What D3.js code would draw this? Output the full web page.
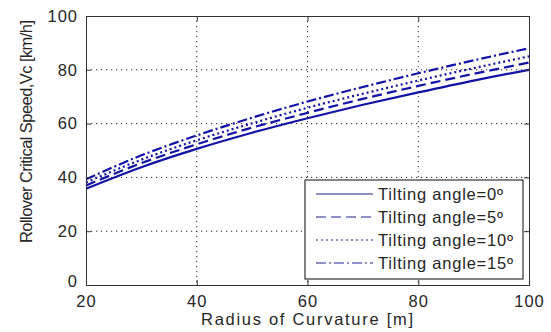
<!DOCTYPE html>
<html>
<head>
<meta charset="utf-8">
<script src="https://cdn.jsdelivr.net/npm/d3@7"></script>
<style>
  body { margin: 0; background: #fff; }
  text { font-family: "Liberation Sans", Arial, sans-serif; fill: #262626; }
</style>
</head>
<body>
<div id="chart"></div>
<script>
// radius of curvature [m]
const radius = [20, 30, 40, 50, 60, 70, 80, 90, 100];
// rollover critical speed [km/h] per tilting angle
const angle0 = [35.8, 43.8, 50.6, 56.6, 62.0, 67.0, 71.6, 76.0, 80.0];
const angle5 = [37.0, 45.3, 52.3, 58.5, 64.0, 69.2, 74.0, 78.5, 82.7];
const angle10 = [38.1, 46.6, 53.8, 60.1, 65.9, 71.1, 76.0, 80.6, 85.0];
const angle15 = [39.3, 48.2, 55.6, 62.2, 68.2, 73.6, 78.7, 83.5, 88.0];
const seriesNames = ['Tilting angle=0º', 'Tilting angle=5º', 'Tilting angle=10º', 'Tilting angle=15º'];
const xTicks = [20, 40, 60, 80, 100];
const yTicks = [0, 20, 40, 60, 80, 100];

const width = 551, height = 332;
const margin = {top: 16, right: 22, bottom: 47, left: 86};
const w = width - margin.left - margin.right;
const h = height - margin.top - margin.bottom;

const svg = d3.select('#chart').append('svg')
  .attr('width', width)
  .attr('height', height);

const g = svg.append('g')
  .attr('transform', 'translate(' + margin.left + ',' + margin.top + ')');

const x = d3.scaleLinear().domain([20, 100]).range([0, w]);
const y = d3.scaleLinear().domain([0, 100]).range([h, 0]);

// dotted grid
g.selectAll('.vgrid').data(xTicks.slice(1, -1)).enter().append('line')
  .attr('x1', d => x(d)).attr('x2', d => x(d))
  .attr('y1', 0).attr('y2', h)
  .style('stroke', '#222').style('stroke-width', 1)
  .style('stroke-dasharray', '1.2,3.8');
g.selectAll('.hgrid').data(yTicks.slice(1, -1)).enter().append('line')
  .attr('x1', 0).attr('x2', w)
  .attr('y1', d => y(d)).attr('y2', d => y(d))
  .style('stroke', '#222').style('stroke-width', 1)
  .style('stroke-dasharray', '1.2,3.8');

// data lines
const series = [
  {values: angle0, dash: null},
  {values: angle5, dash: '10,5'},
  {values: angle10, dash: '2,3'},
  {values: angle15, dash: '10,3,2,3'}
];
const lineBuilder = d3.line()
  .x((d, i) => x(radius[i]))
  .y(d => y(d))
  .curve(d3.curveMonotoneX);

series.forEach(s => {
  g.append('path')
    .attr('d', lineBuilder(s.values))
    .style('fill', 'none')
    .style('stroke', '#1212a6')
    .style('stroke-width', 2.2)
    .style('stroke-dasharray', s.dash);
});

// axes (ticks pointing inwards, labels outside)
const xAxis = d3.axisBottom(x).tickValues(xTicks).tickSize(-5).tickPadding(10);
const yAxis = d3.axisLeft(y).tickValues(yTicks).tickSize(-5).tickPadding(8);

const gx = g.append('g').attr('transform', 'translate(0,' + h + ')').call(xAxis);
const gy = g.append('g').call(yAxis);
g.append('g').call(d3.axisTop(x).tickValues(xTicks).tickSize(-5).tickFormat(''));
g.append('g').attr('transform', 'translate(' + w + ',0)')
  .call(d3.axisRight(y).tickValues(yTicks).tickSize(-5).tickFormat(''));

g.selectAll('.domain').style('stroke', '#333');
g.selectAll('.tick line').style('stroke', '#333');
g.selectAll('.tick text')
  .style('font-size', '16.5px')
  .style('letter-spacing', '1px')
  .style('fill', '#262626')
  .style('font-family', '"Liberation Sans", Arial, sans-serif');
gy.selectAll('.tick').filter(d => d === 0).select('text').attr('dy', '0.1em');

// axis labels
svg.append('text')
  .attr('x', 201).attr('y', 325)
  .attr('textLength', 212).attr('lengthAdjust', 'spacing')
  .style('font-size', '16.5px')
  .text('Radius of Curvature [m]');

svg.append('text')
  .attr('transform', 'translate(32,243) rotate(-90)')
  .attr('textLength', 223).attr('lengthAdjust', 'spacing')
  .style('font-size', '16.5px')
  .text('Rollover Critical Speed,Vc [km/h]');

// legend
const legendWidths = [125, 125, 135, 135];
const lg = svg.append('g').attr('transform', 'translate(305,180)');
lg.append('rect')
  .attr('width', 218).attr('height', 99)
  .style('fill', '#fff').style('stroke', '#333').style('stroke-width', 1.2);

series.forEach((s, i) => {
  const yy = 14 + i * 23;
  lg.append('line')
    .attr('x1', 11).attr('x2', 68)
    .attr('y1', yy).attr('y2', yy)
    .style('stroke', '#202090')
    .style('stroke-width', 1.2)
    .style('stroke-dasharray', s.dash);
  lg.append('text')
    .attr('x', 73).attr('y', yy + 6)
    .attr('textLength', legendWidths[i]).attr('lengthAdjust', 'spacing')
    .style('font-size', '16.5px')
    .text(seriesNames[i]);
});
</script>
</body>
</html>
